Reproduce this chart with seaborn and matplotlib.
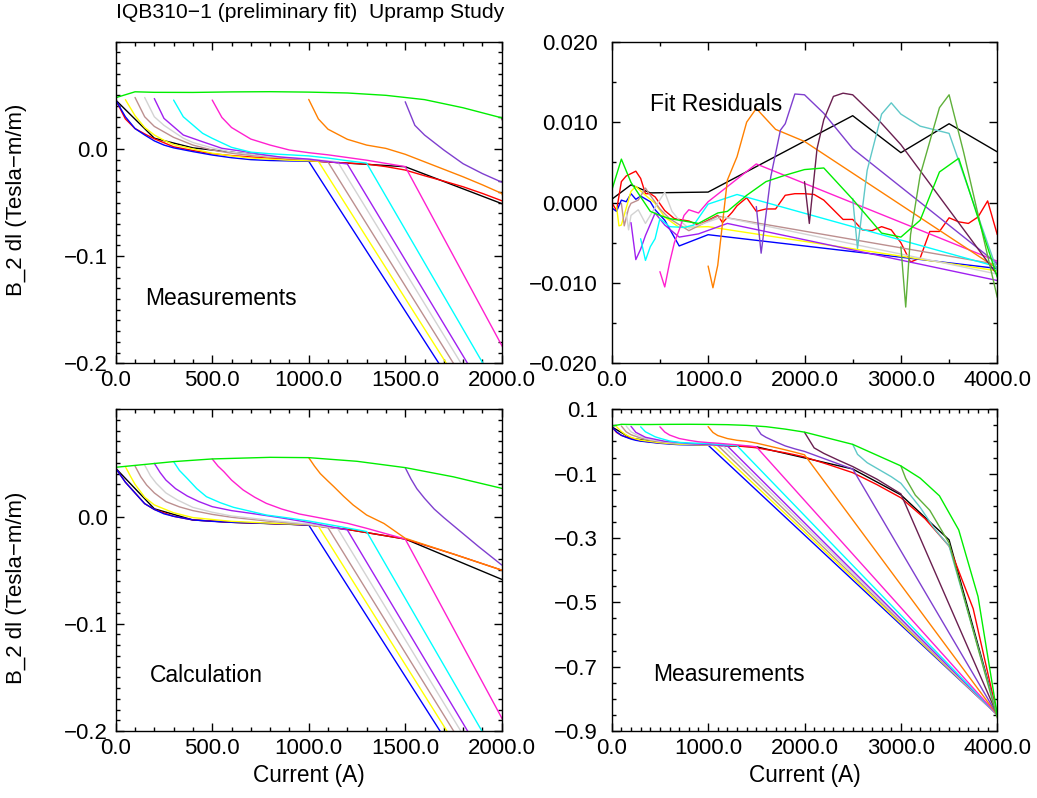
import matplotlib
matplotlib.use("Agg")
import matplotlib.pyplot as plt
import seaborn as sns
from matplotlib.ticker import MultipleLocator, FixedLocator, FuncFormatter

# ---------------- Measurements (B_2 dl vs current) ----------------
meas_blue_x = [0, 50, 100, 150, 200, 250, 300, 400, 500, 600, 700, 800, 900, 1000, 4000]
meas_blue_y = [0.0456, 0.030, 0.019, 0.013, 0.0075, 0.0036, 0.001, -0.0025, -0.0057, -0.0082, -0.0100, -0.0108, -0.0112, -0.0115, -0.850]
meas_yellow_x = [50, 100, 150, 200, 250, 300, 400, 500, 600, 700, 800, 900, 1000, 1050, 4000]
meas_yellow_y = [0.046, 0.031, 0.020, 0.013, 0.008, 0.004, 0.000, -0.004, -0.0065, -0.0085, -0.0095, -0.0105, -0.011, -0.0115, -0.850]
meas_tan_x = [100, 150, 200, 300, 400, 500, 600, 700, 800, 900, 1000, 1100, 4000]
meas_tan_y = [0.048, 0.030, 0.021, 0.0108, 0.0036, -0.001, -0.004, -0.006, -0.0075, -0.009, -0.010, -0.0122, -0.850]
meas_gray_x = [150, 200, 250, 300, 350, 400, 500, 600, 700, 800, 900, 1000, 1150, 4000]
meas_gray_y = [0.048, 0.030, 0.022, 0.016, 0.010, 0.006, 0.001, -0.003, -0.005, -0.007, -0.0085, -0.0095, -0.012, -0.850]
meas_purple_x = [200, 250, 350, 450, 550, 650, 750, 850, 1000, 1200, 4000]
meas_purple_y = [0.047, 0.0285, 0.013, 0.0067, 0.0006, -0.002, -0.005, -0.0075, -0.0095, -0.014, -0.850]
meas_cyan_x = [300, 350, 450, 500, 600, 700, 800, 900, 1000, 1100, 1200, 1300, 4000]
meas_cyan_y = [0.0456, 0.030, 0.0146, 0.0099, 0.0015, -0.0030, -0.0045, -0.0055, -0.0065, -0.0085, -0.011, -0.0132, -0.850]
meas_magenta_x = [500, 550, 600, 700, 800, 900, 1000, 1100, 1200, 1300, 1400, 1500, 4000]
meas_magenta_y = [0.0456, 0.0294, 0.020, 0.0092, 0.0036, -0.001, -0.0035, -0.0055, -0.008, -0.0105, -0.0135, -0.0165, -0.850]
meas_orange_x = [1000, 1050, 1100, 1200, 1300, 1400, 1500, 1600, 1700, 1800, 1900, 2000, 4000]
meas_orange_y = [0.0462, 0.028, 0.0184, 0.0090, 0.0036, 0.0005, -0.0050, -0.0120, -0.0190, -0.0260, -0.0335, -0.0415, -0.850]
meas_indigo_x = [1500, 1550, 1600, 1700, 1800, 1900, 2000, 2100, 2200, 2300, 2400, 2500, 4000]
meas_indigo_y = [0.044, 0.022, 0.013, -0.001, -0.0138, -0.023, -0.031, -0.042, -0.053, -0.064, -0.075, -0.0855, -0.850]
meas_maroon_x = [2000, 2100, 2200, 2350, 2500, 2750, 3000, 4000]
meas_maroon_y = [0.0285, -0.020, -0.037, -0.058, -0.078, -0.117, -0.163, -0.850]
meas_teal_x = [2500, 2550, 2650, 2900, 3000, 3200, 3350, 3500, 4000]
meas_teal_y = [-0.009, -0.040, -0.066, -0.1095, -0.130, -0.205, -0.272, -0.325, -0.850]
meas_olive_x = [3000, 3050, 3150, 3300, 3500, 4000]
meas_olive_y = [-0.076, -0.115, -0.167, -0.214, -0.316, -0.860]
meas_green_x = [0, 100, 200, 400, 600, 800, 1000, 1200, 1400, 1600, 1800, 2000, 2500, 3000, 3200, 3400, 3600, 3800, 4000]
meas_green_y = [0.0478, 0.0533, 0.0528, 0.0527, 0.0532, 0.0534, 0.0530, 0.0522, 0.0500, 0.0460, 0.0384, 0.0290, -0.009, -0.076, -0.114, -0.169, -0.275, -0.482, -0.850]
meas_black_x = [0, 200, 400, 1000, 1500, 2000, 2500, 3000, 3500, 4000]
meas_black_y = [0.0456, 0.0100, 0.0010, -0.0110, -0.0166, -0.0510, -0.0856, -0.166, -0.306, -0.850]
meas_red_x = [0, 50, 100, 150, 200, 250, 300, 400, 500, 600, 700, 800, 900, 1000, 1100, 1200, 1300, 1400,
              1500, 1600, 1700, 1800, 1900, 2000, 2250, 2500, 2750, 3000, 3250, 3500, 3750, 4000]
meas_red_y = [0.0456, 0.028, 0.019, 0.0140, 0.0095, 0.0058, 0.0020, -0.0015, -0.0045, -0.0062, -0.0075, -0.0088, -0.0098,
              -0.0110, -0.0122, -0.0132, -0.0141, -0.0165, -0.0197, -0.0250, -0.0300, -0.0353, -0.0415, -0.0483,
              -0.072, -0.097, -0.134, -0.175, -0.240, -0.325, -0.520, -0.850]

# ---------------- Calculation ----------------
calc_blue_x = [0, 50, 100, 150, 200, 250, 300, 400, 500, 600, 800, 1000, 4000]
calc_blue_y = [0.045, 0.032, 0.022, 0.012, 0.0066, 0.0025, 0.0002, -0.0032, -0.0045, -0.0054, -0.0065, -0.0079, -0.855]
calc_yellow_x = [50, 75, 100, 150, 200, 300, 400, 600, 800, 1000, 1050, 4000]
calc_yellow_y = [0.0465, 0.038, 0.030, 0.018, 0.0108, 0.0035, -0.0010, -0.0045, -0.0062, -0.0075, -0.0090, -0.855]
calc_tan_x = [100, 130, 160, 200, 260, 330, 400, 500, 600, 800, 1000, 1100, 4000]
calc_tan_y = [0.0471, 0.037, 0.0294, 0.022, 0.0139, 0.009, 0.0055, 0.002, -0.0007, -0.0045, -0.0075, -0.0105, -0.855]
calc_gray_x = [150, 180, 210, 260, 320, 400, 500, 600, 800, 1000, 1150, 4000]
calc_gray_y = [0.048, 0.038, 0.031, 0.022, 0.0154, 0.0085, 0.004, 0.0005, -0.0035, -0.0070, -0.0112, -0.855]
calc_purple_x = [200, 230, 260, 310, 370, 430, 500, 600, 700, 850, 1000, 1200, 4000]
calc_purple_y = [0.0496, 0.041, 0.034, 0.026, 0.0192, 0.0140, 0.0092, 0.0055, 0.003, -0.001, -0.0055, -0.0125, -0.855]
calc_cyan_x = [300, 330, 370, 420, 470, 540, 610, 700, 780, 900, 1000, 1150, 1300, 4000]
calc_cyan_y = [0.0512, 0.043, 0.0356, 0.026, 0.0185, 0.0130, 0.0086, 0.0048, 0.0014, -0.0015, -0.0042, -0.0090, -0.0140, -0.855]
calc_magenta_x = [500, 530, 560, 600, 660, 720, 780, 860, 950, 1050, 1200, 1300, 1500, 4000]
calc_magenta_y = [0.0537, 0.047, 0.0419, 0.034, 0.0248, 0.018, 0.0123, 0.007, 0.0024, -0.001, -0.0063, -0.0110, -0.0210, -0.855]
calc_orange_x = [1000, 1030, 1060, 1100, 1130, 1180, 1230, 1300, 1390, 1500, 1750, 2000]
calc_orange_y = [0.0549, 0.047, 0.040, 0.033, 0.0279, 0.019, 0.0108, 0.0014, -0.0065, -0.0203, -0.035, -0.050]
calc_indigo_x = [1500, 1530, 1560, 1600, 1650, 1700, 1780, 1880, 2000]
calc_indigo_y = [0.0456, 0.035, 0.026, 0.017, 0.007, -0.001, -0.013, -0.028, -0.0452]
calc_green_x = [0, 300, 500, 800, 1000, 1250, 1500, 1750, 2000]
calc_green_y = [0.0459, 0.0512, 0.0537, 0.0552, 0.0549, 0.0515, 0.0456, 0.037, 0.0263]
calc_black_x = [0, 200, 400, 600, 1000, 1200, 1300, 1500, 2000]
calc_black_y = [0.045, 0.0072, -0.0032, -0.0054, -0.0079, -0.012, -0.015, -0.021, -0.0586]
calc_red_x = [0, 50, 100, 150, 200, 300, 400, 600, 800, 1000, 1200, 1300, 1500, 1750, 2000]
calc_red_y = [0.045, 0.032, 0.022, 0.012, 0.0066, 0.0002, -0.0032, -0.0054, -0.0065, -0.0079, -0.012, -0.015, -0.021, -0.035, -0.050]

# ---------------- Fit residuals ----------------
res_black_x = [0, 200, 400, 1000, 2500, 3000, 3500, 4000]
res_black_y = [0.0004, 0.0022, 0.0012, 0.0013, 0.0108, 0.0062, 0.0098, 0.0063]
res_blue_x = [0, 5, 50, 100, 150, 200, 250, 300, 400, 450, 550, 700, 1000, 4000]
res_blue_y = [0.0042, -0.0007, -0.0011, 0.0003, 0.0001, 0.0011, 0.0004, 0.0008, 0.0001, -0.0009, -0.0022, -0.0054, -0.0040, -0.0082]
res_yellow_x = [50, 75, 100, 200, 250, 350, 450, 550, 700, 1000, 4000]
res_yellow_y = [-0.0005, -0.0029, -0.0028, 0.0014, 0.0020, 0.0009, -0.0001, -0.0018, -0.0031, -0.0030, -0.0085]
res_tan_x = [100, 130, 175, 200, 275, 350, 400, 500, 600, 800, 1100, 4000]
res_tan_y = [-0.0001, -0.0029, -0.0007, -0.0001, 0.0003, 0.0018, 0.0009, -0.0008, -0.0020, -0.0035, -0.0017, -0.0077]
res_gray_x = [150, 175, 200, 275, 350, 425, 550, 625, 700, 800, 1150, 4000]
res_gray_y = [-0.0012, -0.0034, -0.0016, -0.0009, -0.0026, -0.0011, 0.0013, -0.0011, -0.0022, -0.0032, -0.0018, -0.0089]
res_purple_x = [200, 250, 300, 350, 450, 550, 700, 900, 1200, 4000]
res_purple_y = [-0.0025, -0.0071, -0.0058, -0.0041, -0.0013, -0.0028, -0.0043, -0.0039, -0.0026, -0.0097]
res_cyan_x = [300, 350, 400, 450, 500, 600, 750, 850, 1000, 1300, 4000]
res_cyan_y = [-0.0045, -0.0072, -0.0055, -0.0045, -0.0020, -0.0030, -0.0031, -0.0028, -0.0002, 0.0010, -0.0080]
res_magenta_x = [500, 550, 600, 650, 700, 750, 800, 900, 1000, 1500, 4000]
res_magenta_y = [-0.0086, -0.0105, -0.0075, -0.0050, -0.0034, -0.0016, -0.0009, -0.0013, 0.0001, 0.0048, -0.0073]
res_orange_x = [1000, 1050, 1100, 1200, 1300, 1400, 1500, 1700, 2000, 4000]
res_orange_y = [-0.0079, -0.0106, -0.0078, 0.0028, 0.0057, 0.0100, 0.0117, 0.0091, 0.0076, -0.0082]
res_indigo_x = [1500, 1550, 1650, 1750, 1800, 1900, 2000, 2200, 2500, 4000]
res_indigo_y = [-0.0005, -0.0063, 0.0032, 0.0090, 0.0098, 0.0135, 0.0134, 0.0111, 0.0067, -0.0076]
res_maroon_x = [2000, 2050, 2130, 2200, 2300, 2400, 2500, 2750, 3000, 4000]
res_maroon_y = [0.0026, -0.0026, 0.0067, 0.0103, 0.0132, 0.0136, 0.0134, 0.0105, 0.0072, -0.0090]
res_teal_x = [2500, 2550, 2650, 2800, 2900, 3000, 3200, 3500, 4000]
res_teal_y = [0.0005, -0.0057, 0.0040, 0.0110, 0.0124, 0.0110, 0.0095, 0.0086, -0.0085]
res_olive_x = [3000, 3050, 3100, 3200, 3300, 3400, 3500, 3650, 4000]
res_olive_y = [-0.0055, -0.0130, -0.0040, 0.0034, 0.0076, 0.0118, 0.0134, 0.0063, -0.0118]
res_green_x = [0, 100, 200, 400, 500, 600, 800, 900, 1100, 1200, 1400, 1600, 1800, 2000, 2200, 2500,
               2800, 3000, 3200, 3400, 3600, 4000]
res_green_y = [0.0015, 0.0054, 0.0025, -0.0011, -0.0016, -0.0020, -0.0024, -0.0026, -0.0013, -0.0011, 0.0009,
               0.0026, 0.0034, 0.0041, 0.0043, 0.0004, -0.0038, -0.0043, -0.0022, 0.0038, 0.0055, -0.0093]
res_red_x = [0, 50, 100, 150, 250, 300, 350, 400, 450, 550, 650, 800, 900, 1000, 1100, 1150, 1250, 1300, 1400,
             1500, 1600, 1700, 1800, 1900, 2000, 2100, 2200, 2300, 2400, 2500, 2600, 2700, 2800, 2900, 3000,
             3100, 3200, 3300, 3400, 3500, 3600, 3700, 3800, 3900, 4000]
res_red_y = [0.0, -0.0010, 0.0026, 0.0033, 0.0039, 0.0030, 0.0011, 0.0011, 0.0007, -0.0010, -0.0020, -0.0023,
             -0.0028, -0.0022, -0.0016, -0.0025, -0.0012, -0.0004, 0.0006, -0.0011, -0.0008, -0.0008, 0.0009,
             0.0011, 0.0011, 0.0010, 0.0003, -0.0009, -0.0021, -0.0021, -0.0034, -0.0035, -0.0030, -0.0034,
             -0.0050, -0.0074, -0.0069, -0.0036, -0.0036, -0.0019, -0.0024, -0.0026, -0.0018, 0.0002, -0.0040]

COLORS = {
    "blue": "#0000ff", "yellow": "#ffff00", "tan": "#bc8f8f", "gray": "#d3d3d3",
    "purple": "#a020f0", "cyan": "#00ffff", "magenta": "#ff20d0", "orange": "#ff8000",
    "indigo": "#7f3fcf", "maroon": "#6a1f50", "teal": "#5fc8c8", "olive": "#5fb03a",
    "green": "#00ee00", "black": "#000000", "red": "#ff0000",
}
ORDER = ["black", "red", "blue", "yellow", "tan", "gray", "purple", "cyan", "magenta", "orange",
         "indigo", "maroon", "teal", "olive", "green"]

measurements = {
    "blue": (meas_blue_x, meas_blue_y), "yellow": (meas_yellow_x, meas_yellow_y),
    "tan": (meas_tan_x, meas_tan_y), "gray": (meas_gray_x, meas_gray_y),
    "purple": (meas_purple_x, meas_purple_y), "cyan": (meas_cyan_x, meas_cyan_y),
    "magenta": (meas_magenta_x, meas_magenta_y), "orange": (meas_orange_x, meas_orange_y),
    "indigo": (meas_indigo_x, meas_indigo_y), "maroon": (meas_maroon_x, meas_maroon_y),
    "teal": (meas_teal_x, meas_teal_y), "olive": (meas_olive_x, meas_olive_y),
    "green": (meas_green_x, meas_green_y), "black": (meas_black_x, meas_black_y),
    "red": (meas_red_x, meas_red_y),
}
calculation = {
    "blue": (calc_blue_x, calc_blue_y), "yellow": (calc_yellow_x, calc_yellow_y),
    "tan": (calc_tan_x, calc_tan_y), "gray": (calc_gray_x, calc_gray_y),
    "purple": (calc_purple_x, calc_purple_y), "cyan": (calc_cyan_x, calc_cyan_y),
    "magenta": (calc_magenta_x, calc_magenta_y), "orange": (calc_orange_x, calc_orange_y),
    "indigo": (calc_indigo_x, calc_indigo_y), "green": (calc_green_x, calc_green_y),
    "black": (calc_black_x, calc_black_y), "red": (calc_red_x, calc_red_y),
}
residuals = {
    "blue": (res_blue_x, res_blue_y), "yellow": (res_yellow_x, res_yellow_y),
    "tan": (res_tan_x, res_tan_y), "gray": (res_gray_x, res_gray_y),
    "purple": (res_purple_x, res_purple_y), "cyan": (res_cyan_x, res_cyan_y),
    "magenta": (res_magenta_x, res_magenta_y), "orange": (res_orange_x, res_orange_y),
    "indigo": (res_indigo_x, res_indigo_y), "maroon": (res_maroon_x, res_maroon_y),
    "teal": (res_teal_x, res_teal_y), "olive": (res_olive_x, res_olive_y),
    "green": (res_green_x, res_green_y), "black": (res_black_x, res_black_y),
    "red": (res_red_x, res_red_y),
}

sns.set_theme(style="ticks")
plt.rcParams["font.family"] = ["Liberation Sans", "DejaVu Sans"]
plt.rcParams["axes.unicode_minus"] = True
plt.rcParams["text.color"] = "black"
plt.rcParams["axes.labelcolor"] = "black"
plt.rcParams["xtick.color"] = "black"
plt.rcParams["ytick.color"] = "black"
plt.rcParams["axes.edgecolor"] = "black"
FS = 16

fig = plt.figure(figsize=(10.37, 7.98), dpi=100)
ax_tl = fig.add_axes([0.1116, 0.5447, 0.3722, 0.4030])
ax_tr = fig.add_axes([0.5899, 0.5447, 0.3718, 0.4030])
ax_bl = fig.add_axes([0.1116, 0.0840, 0.3722, 0.4031])
ax_br = fig.add_axes([0.5899, 0.0840, 0.3718, 0.4031])


def draw(ax, series):
    for name in ORDER:
        if name not in series:
            continue
        xs, ys = series[name]
        sns.lineplot(x=xs, y=ys, color=COLORS[name], linewidth=1.0, estimator=None,
                     sort=False, legend=False, ax=ax)


def fmt(decimals):
    def f(v, pos):
        s = f"{v:.{decimals}f}"
        if s.startswith("-"):
            s = "\u2212" + s[1:]
        return s
    return FuncFormatter(f)


def style(ax, xlim, ylim, xmaj, xmin, yticks, ymin, ydec, ypad):
    ax.set_xlim(*xlim)
    ax.set_ylim(*ylim)
    ax.xaxis.set_major_locator(MultipleLocator(xmaj))
    ax.xaxis.set_minor_locator(MultipleLocator(xmin))
    ax.yaxis.set_major_locator(FixedLocator(yticks))
    ax.yaxis.set_minor_locator(MultipleLocator(ymin))
    ax.xaxis.set_major_formatter(fmt(1))
    ax.yaxis.set_major_formatter(fmt(ydec))
    ax.tick_params(which="both", direction="in", top=True, right=True,
                   labelsize=FS, colors="black", labelcolor="black", width=1.0)
    ax.tick_params(which="major", length=5.5)
    ax.tick_params(which="minor", length=3)
    ax.tick_params(axis="x", pad=5)
    ax.tick_params(axis="y", pad=ypad)
    for sp in ax.spines.values():
        sp.set_linewidth(1.0)
        sp.set_color("black")
    ax.set_xlabel("")
    ax.set_ylabel("")


draw(ax_tl, measurements)
style(ax_tl, (0, 2000), (-0.2, 0.1), 500, 100, [-0.2, -0.1, 0.0], 0.01, 1, 5.5)
ax_tl.text(0.076, 0.203, "Measurements", transform=ax_tl.transAxes, fontsize=16.5, va="center", ha="left")

draw(ax_tr, residuals)
style(ax_tr, (0, 4000), (-0.02, 0.02), 1000, 500, [-0.02, -0.01, 0.0, 0.01, 0.02], 0.005, 3, 10)
ax_tr.text(0.099, 0.806, "Fit Residuals", transform=ax_tr.transAxes, fontsize=16.5, va="center", ha="left")

draw(ax_bl, calculation)
style(ax_bl, (0, 2000), (-0.2, 0.1), 500, 100, [-0.2, -0.1, 0.0], 0.01, 1, 5.5)
ax_bl.text(0.089, 0.171, "Calculation", transform=ax_bl.transAxes, fontsize=16.5, va="center", ha="left")
ax_bl.set_xlabel("Current (A)", fontsize=16.3, labelpad=4, color="black")

draw(ax_br, measurements)
style(ax_br, (0, 4000), (-0.9, 0.1), 1000, 100, [0.1, -0.1, -0.3, -0.5, -0.7, -0.9], 0.05, 1, 10)
ax_br.text(0.107, 0.177, "Measurements", transform=ax_br.transAxes, fontsize=16.5, va="center", ha="left")
ax_br.set_xlabel("Current (A)", fontsize=16.3, labelpad=4, color="black")

fig.text(0.1116, 1 - 12 / 798, "IQB310\u22121 (preliminary fit)  Upramp Study", fontsize=15.2,
         ha="left", va="center", color="black")
fig.text(17 / 1037, 1 - 200 / 798, "B_2 dl (Tesla\u2212m/m)", fontsize=FS, rotation=90,
         ha="center", va="center", color="black")
fig.text(17 / 1037, 1 - 588 / 798, "B_2 dl (Tesla\u2212m/m)", fontsize=FS, rotation=90,
         ha="center", va="center", color="black")

fig.savefig("out.png", dpi=100)
